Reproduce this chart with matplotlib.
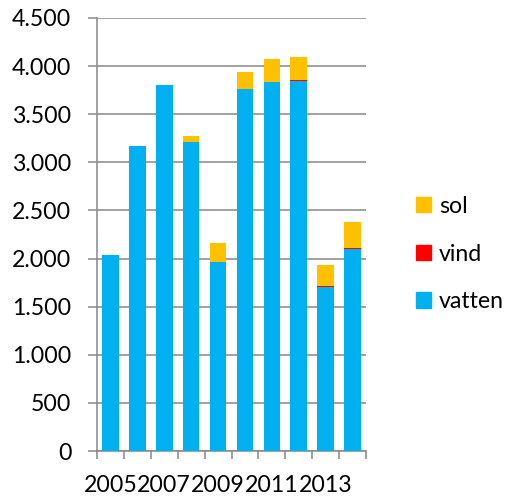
import matplotlib
matplotlib.use("Agg")
import matplotlib.pyplot as plt
from matplotlib.patches import Patch
from matplotlib.ticker import FuncFormatter, FixedLocator

plt.rcParams['font.family'] = ['Lato', 'DejaVu Sans']

years = [2005, 2006, 2007, 2008, 2009, 2010, 2011, 2012, 2013, 2014]
vatten = [2037, 3173, 3800, 3211, 1967, 3759, 3838, 3845, 1707, 2100]
vind = [0, 0, 0, 0, 0, 0, 0, 14, 5, 8]
sol = [0, 0, 0, 63, 198, 183, 233, 239, 221, 269]
series_names = ['vatten', 'vind', 'sol']
colors = ['#00B0F0', '#FF0000', '#FFC000']
yticks = [0, 500, 1000, 1500, 2000, 2500, 3000, 3500, 4000, 4500]

fs = 16.7
fig = plt.figure(figsize=(5.07, 4.98), dpi=100)
ax = fig.add_axes([97/507, 1 - 451/498, (366-97)/507, (451-18)/498])

x = list(range(len(years)))
bottom2 = [a + b for a, b in zip(vatten, vind)]
ax.bar(x, vatten, width=0.62, color=colors[0], zorder=3, label=series_names[0])
ax.bar(x, vind, width=0.62, bottom=vatten, color=colors[1], zorder=3, label=series_names[1])
ax.bar(x, sol, width=0.62, bottom=bottom2, color=colors[2], zorder=3, label=series_names[2])

ax.set_xlim(-0.5, len(years) - 0.5)
ax.set_ylim(0, 4500)
ax.set_yticks(yticks)
ax.yaxis.set_major_formatter(FuncFormatter(lambda v, p: f"{int(v):,}".replace(",", ".")))
ax.grid(axis='y', color='#888888', linewidth=1.1, zorder=0)
ax.tick_params(axis='y', length=6.5, width=1.1, color='#888888', pad=12, labelsize=fs, labelcolor='black')

ax.set_xticks(x[::2])
ax.set_xticklabels([str(y) for y in years[::2]])
ax.xaxis.set_minor_locator(FixedLocator([i - 0.5 for i in range(len(years) + 1)]))
ax.tick_params(axis='x', which='major', length=0, pad=17, labelsize=fs, labelcolor='black')
ax.tick_params(axis='x', which='minor', length=5.8, width=1.1, color='#888888')

for s in ['top', 'right']:
    ax.spines[s].set_visible(False)
for s in ['left', 'bottom']:
    ax.spines[s].set_color('#888888')
    ax.spines[s].set_linewidth(1.1)

handles = [Patch(color=colors[i], label=series_names[i]) for i in range(3)][::-1]
fig.legend(handles=handles, loc='center left', bbox_to_anchor=(416/507, 1 - 254/498),
           frameon=False, fontsize=fs, handlelength=0.65, handleheight=0.65,
           handletextpad=0.33, labelspacing=1.15, borderpad=0, borderaxespad=0)

fig.savefig('out.png', dpi=100)
